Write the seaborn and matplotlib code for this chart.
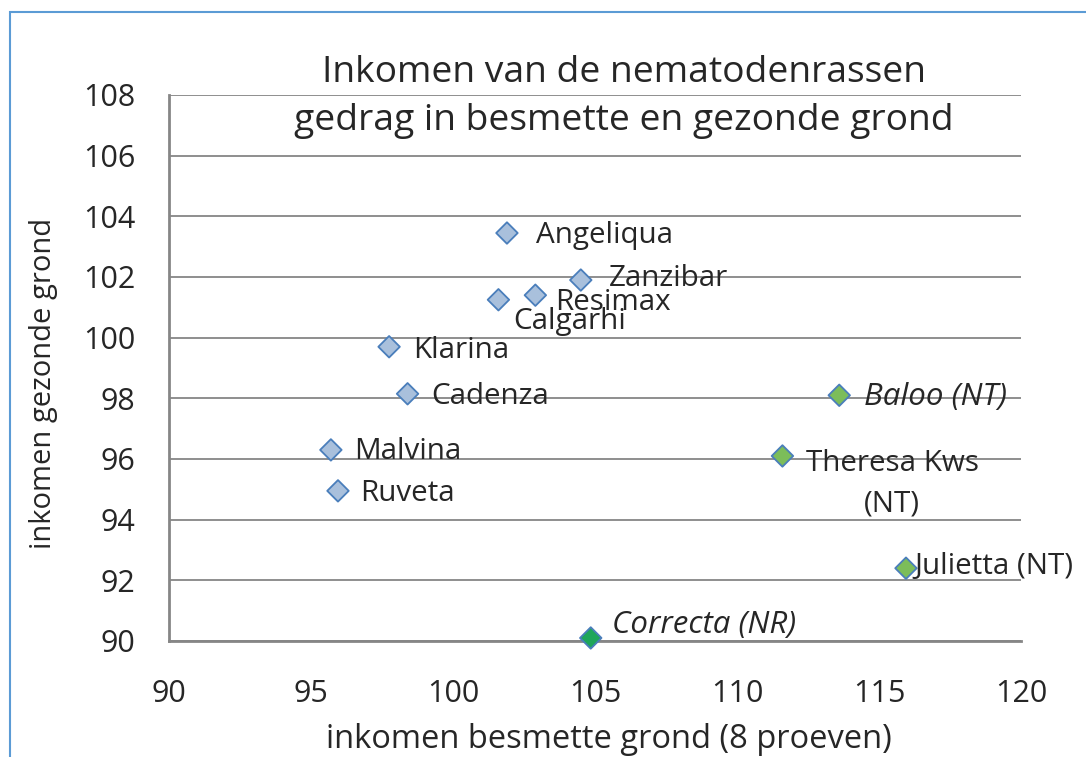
import numpy as np
import pandas as pd
import matplotlib
matplotlib.use("Agg")
import matplotlib.pyplot as plt
import seaborn as sns
from matplotlib.patches import Rectangle

# rassen en inkomen (relatief)
rassen = ['Angeliqua', 'Zanzibar', 'Resimax', 'Calgarhi', 'Klarina', 'Cadenza',
          'Malvina', 'Ruveta', 'Baloo (NT)', 'Theresa Kws\n(NT)', 'Julietta (NT)', 'Correcta (NR)']
besmet = [101.9, 104.5, 102.9, 101.6, 97.75, 98.4, 95.7, 95.95, 113.6, 111.6, 115.95, 104.85]
gezond = [103.45, 101.9, 101.4, 101.25, 99.7, 98.15, 96.3, 94.95, 98.1, 96.1, 92.4, 90.1]
groep = ['gevoelig'] * 8 + ['NT'] * 3 + ['NR']

df = pd.DataFrame({'ras': rassen, 'besmet': besmet, 'gezond': gezond, 'groep': groep})

# label offsets in points (dx, dy)
offsets = {
    'Angeliqua': (21, -2), 'Zanzibar': (20, 1), 'Resimax': (14, -5), 'Calgarhi': (11, -16),
    'Klarina': (17, -3), 'Cadenza': (17, -2), 'Malvina': (17, -1), 'Ruveta': (16, -2),
    'Baloo (NT)': (18, -1), 'Theresa Kws\n(NT)': (79, -20), 'Julietta (NT)': (6, 1),
    'Correcta (NR)': (15, 9),
}
cursief = ['Baloo (NT)', 'Correcta (NR)']

sns.set_style("white")
plt.rcParams['font.family'] = ['Open Sans', 'DejaVu Sans']
tekst = '#262626'
grijs = '#868686'

fig = plt.figure(figsize=(10.86, 7.57), dpi=100)
ax = fig.add_axes([169 / 1086, 1 - 641 / 757, 852 / 1086, 546 / 757])

kleuren = {'gevoelig': '#a9c0dc', 'NT': '#7cbd5a', 'NR': '#1ea65a'}
sns.scatterplot(data=df, x='besmet', y='gezond', hue='groep', palette=kleuren, marker='D',
                s=120, edgecolor='#4a7ebb', linewidth=1.3, legend=False, ax=ax, zorder=3, clip_on=False)

for _, r in df.iterrows():
    dx, dy = offsets[r['ras']]
    is_cursief = r['ras'] in cursief
    ha = 'center' if '\n' in r['ras'] else 'left'
    ax.annotate(r['ras'], (r['besmet'], r['gezond']), xytext=(dx, dy), textcoords='offset points',
                ha=ha, va='center', fontsize=22.5 if is_cursief else 21.3, color=tekst,
                style='italic' if is_cursief else 'normal',
                multialignment='center', linespacing=1.55, zorder=4, annotation_clip=False)

ax.set_xlim(90, 120)
ax.set_ylim(90, 108)
ax.set_xticks(np.arange(90, 121, 5))
ax.set_yticks(np.arange(90, 109, 2))
ax.grid(axis='y', color=grijs, linewidth=1.3)
ax.grid(axis='x', visible=False)
ax.set_axisbelow(True)
for kant in ['top', 'right']:
    ax.spines[kant].set_visible(False)
for kant in ['left', 'bottom']:
    ax.spines[kant].set_color(grijs)
    ax.spines[kant].set_linewidth(2)
ax.tick_params(axis='both', direction='out', length=8, width=1.5, color=grijs,
               labelsize=22, labelcolor=tekst)
ax.tick_params(axis='y', pad=16)
ax.tick_params(axis='x', pad=19)
ax.set_xlabel('')
ax.set_ylabel('')

fig.text(609 / 1086, 1 - 740 / 757, 'inkomen besmette grond (8 proeven)', ha='center', va='center',
         fontsize=23.5, color=tekst)
fig.text(44 / 1086, 1 - 383 / 757, 'inkomen gezonde grond', ha='center', va='center',
         rotation=90, fontsize=21, color=tekst)
fig.text(624 / 1086, 1 - 97 / 757, 'Inkomen van de nematodenrassen\ngedrag in besmette en gezonde grond',
         ha='center', va='center', fontsize=26.8, color=tekst, linespacing=1.42)

# kader om de grafiek
fig.patches.append(Rectangle((10 / 1086, -0.5), 2, 1.5 - 12 / 757, transform=fig.transFigure,
                             fill=False, edgecolor='#5b9bd5', linewidth=1.5))

fig.savefig('out.png', dpi=100)
